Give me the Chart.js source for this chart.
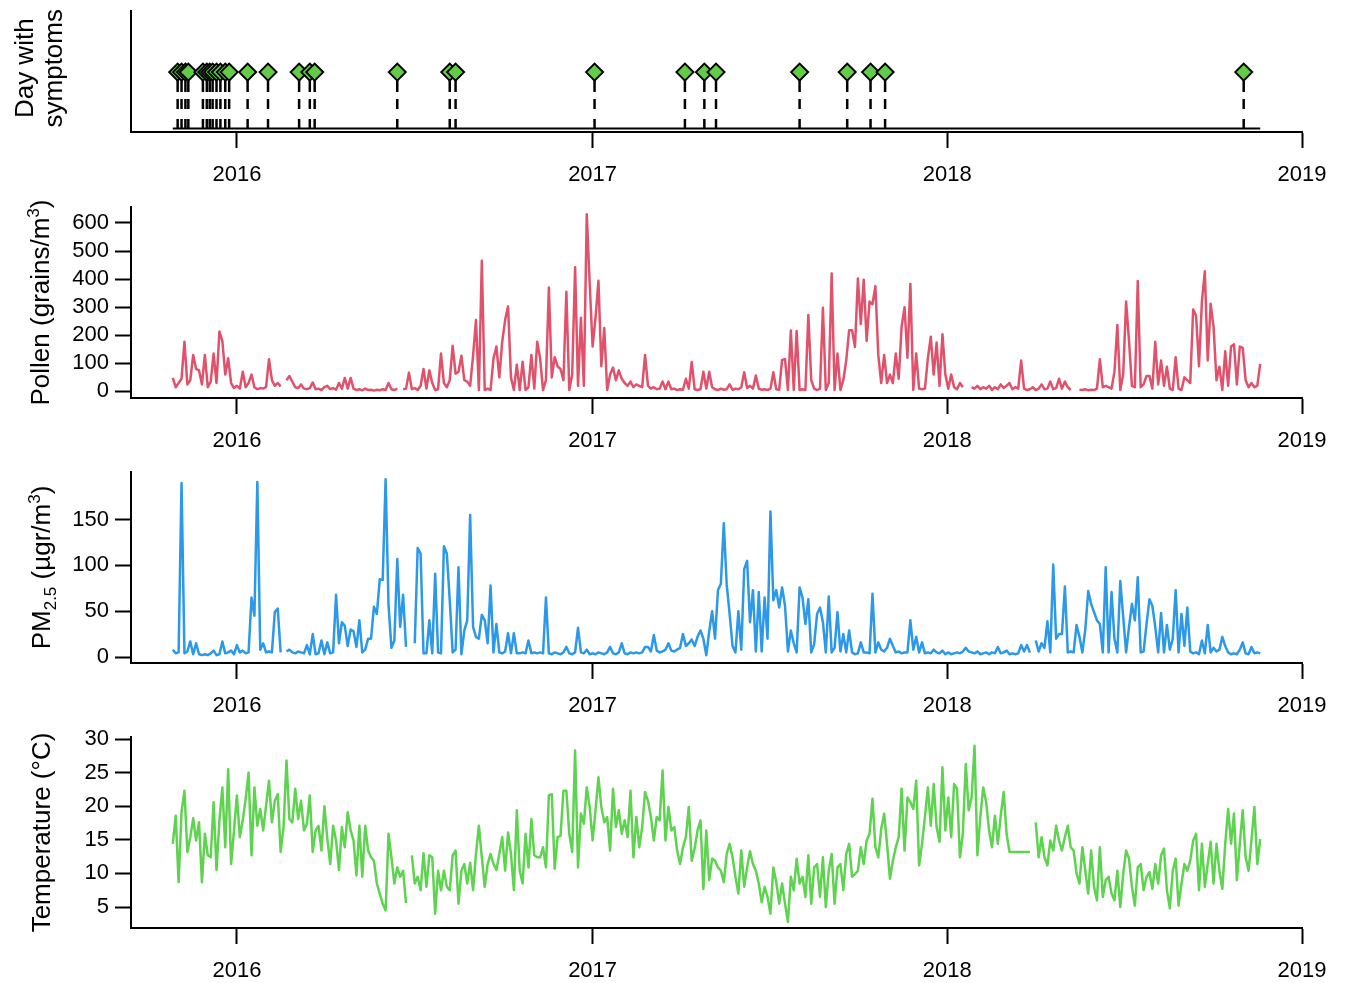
<!DOCTYPE html>
<html>
<head>
<meta charset="utf-8">
<title>Symptoms, pollen, PM2.5 and temperature</title>
<script src="https://cdn.jsdelivr.net/npm/chart.js@4.4.1/dist/chart.umd.min.js"></script>
<style>
  body { margin: 0; background: #fff; }
  .panel { position: absolute; left: 0; }
</style>
</head>
<body>
<div class="panel" style="top:0px"><canvas id="symptoms" width="1345" height="192"></canvas></div>
<div class="panel" style="top:199px"><canvas id="pollen" width="1345" height="259"></canvas></div>
<div class="panel" style="top:464px"><canvas id="pm" width="1345" height="259"></canvas></div>
<div class="panel" style="top:729px"><canvas id="temp" width="1345" height="259"></canvas></div>

<script>
// ---- data (daily series read every 3 days off the figure) ----
const seriesStart = '2015-10-27';
const stepDays = 3;

const yearTicks = ['2016-01-01', '2017-01-01', '2018-01-01', '2019-01-01'];
const yearLabels = ['2016', '2017', '2018', '2019'];

const symptomDates = [
  '2015-11-01', '2015-11-05', '2015-11-09', '2015-11-12',
  '2015-11-27', '2015-12-01', '2015-12-04', '2015-12-07', '2015-12-11', '2015-12-15',
  '2015-12-20', '2015-12-24', '2016-01-12', '2016-02-02', '2016-03-05', '2016-03-16',
  '2016-03-21', '2016-06-14', '2016-08-07', '2016-08-13', '2017-01-03', '2017-04-06',
  '2017-04-26', '2017-05-08', '2017-08-02', '2017-09-20', '2017-10-14', '2017-10-29',
  '2018-11-02'
];

// grains/m3
const pollen = [
  48, 15, 30, 45, 177, 25, 40, 130, 80, 75,
  25, 130, 15, 35, 135, 30, 213, 180, 60, 118,
  30, 12, 20, 10, 70, 15, 30, 60, 15, 8,
  12, 10, 15, 115, 40, 20, 30, 18, null, 40,
  55, 35, 15, 12, 25, 10, 8, 12, 32, 8,
  10, 5, 15, 20, 8, 12, 6, 30, 10, 48,
  10, 48, 10, 5, 8, 4, 10, 5, 6, 3,
  6, 4, 8, 5, 30, 8, 5, 10, null, 8,
  10, 67, 8, 12, 5, 20, 80, 10, 75, 30,
  5, 8, 135, 30, 15, 40, 163, 63, 70, 127,
  40, 35, 20, 127, 254, 5, 465, 5, 10, 5,
  117, 160, 50, 177, 255, 303, 50, 5, 95, 5,
  106, 5, 15, 130, 10, 177, 118, 5, 40, 370,
  50, 122, 89, 80, 40, 355, 5, 60, 442, 20,
  262, 20, 631, 385, 160, 262, 394, 90, 226, 5,
  60, 85, 40, 75, 45, 30, 20, 35, 15, 25,
  20, 15, 130, 20, 10, 15, 8, 10, 35, 8,
  35, 8, 10, 5, 8, 6, 45, 10, 105, 8,
  5, 8, 70, 10, 70, 15, 8, 5, 10, 6,
  8, 25, 6, 10, 8, 15, 68, 12, 20, 10,
  57, 10, 6, 8, 5, 10, 68, 8, 6, 112,
  115, 5, 217, 5, 215, 5, 8, 5, 272, 40,
  10, 5, 10, 298, 5, 30, 420, 5, 135, 5,
  40, 110, 218, 218, 158, 402, 240, 398, 180, 320,
  310, 375, 130, 30, 130, 30, 60, 30, 135, 45,
  231, 300, 120, 383, 5, 135, 10, 8, 10, 118,
  195, 60, 174, 20, 204, 60, 10, 60, 15, 8,
  30, 15, null, null, 15, 10, 20, 8, 15, 10,
  20, 5, 15, 8, 25, 12, 20, 30, 8, 15,
  10, 110, 10, 5, 8, 15, 5, 10, 25, 8,
  10, 35, 8, 12, 45, 10, 35, 15, 5, null,
  null, 6, 5, 8, 4, 6, 5, 10, 115, 15,
  20, 15, 10, 70, 237, 5, 60, 320, 180, 20,
  15, 393, 15, 25, 55, 55, 10, 177, 25, 110,
  20, 88, 10, 5, 122, 10, 5, 50, 40, 30,
  292, 270, 90, 320, 428, 110, 312, 230, 40, 88,
  5, 143, 20, 160, 168, 25, 160, 155, 40, 15,
  30, 15, 20, 98
];

// ugr/m3
const pm25 = [
  8, 4, 5, 190, 4, 6, 17, 3, 15, 3,
  2, 3, 2, 4, 7, 2, 3, 17, 4, 5,
  7, 3, 13, 5, 7, 4, 5, 65, 45, 191,
  8, 15, 5, 6, 5, 49, 53, 5, null, 6,
  8, 5, 4, 6, 5, 4, 13, 3, 25, 3,
  4, 18, 3, 16, 4, 5, 68, 15, 38, 34,
  12, 30, 28, 11, 40, 5, 8, 20, 20, 55,
  47, 85, 84, 194, 57, 10, 18, 107, 33, 68,
  11, null, null, 15, 119, 113, 4, 4, 40, 4,
  91, 5, 4, 121, 113, 62, 5, 8, 98, 3,
  29, 40, 155, 33, 22, 20, 46, 40, 15, 78,
  5, 36, 5, 4, 6, 26, 4, 26, 4, 4,
  5, 4, 18, 4, 5, 4, 5, 4, 65, 4,
  3, 5, 4, 3, 5, 11, 4, 3, 5, 32,
  5, 4, 8, 3, 4, 3, 5, 4, 3, 5,
  11, 4, 3, 5, 15, 4, 3, 5, 4, 5,
  4, 5, 11, 11, 6, 24, 7, 5, 6, 8,
  15, 7, 6, 8, 10, 25, 12, 15, 19, 12,
  22, 29, 20, 2, 28, 50, 20, 73, 80, 146,
  79, 47, 12, 5, 50, 8, 96, 105, 38, 73,
  6, 71, 6, 65, 20, 159, 62, 73, 54, 76,
  56, 6, 29, 15, 5, 76, 65, 36, 63, 5,
  14, 47, 54, 38, 5, 66, 5, 10, 49, 6,
  25, 5, 29, 5, 3, 4, 16, 5, 5, 4,
  69, 5, 16, 8, 6, 10, 20, 12, 5, 6,
  4, 5, 5, 40, 8, 22, 5, 16, 4, 5,
  4, 8, 5, 4, 7, 3, 5, 3, 4, 5,
  4, 6, 10, 6, 5, 4, 6, 3, 4, 5,
  3, 5, 4, 11, 4, 5, 7, 3, 4, 3,
  4, 13, 6, 13, 5, null, 18, 6, 15, 10,
  39, 5, 101, 20, 25, 25, 77, 5, 6, 5,
  35, 22, 5, 30, 72, 58, 49, 40, 36, 5,
  98, 5, 71, 20, 5, 83, 44, 5, 33, 58,
  40, 87, 5, 6, 36, 63, 56, 33, 5, 48,
  5, 35, 8, 20, 73, 5, 47, 12, 54, 6,
  4, 5, 3, 18, 4, 35, 5, 10, 6, 8,
  22, 12, 5, 3, 4, 3, 8, 16, 4, 3,
  11, 4, 5, 4
];

// degrees C
const temperature = [
  14.4, 18.6, 8.7, 19.1, 22.3, 13.2, 15.4, 18.2, 14.9, 17.6,
  8.7, 15.9, 12.7, 12.4, 20.6, 10.5, 17.9, 22.8, 13.9, 25.5,
  11.4, 16.4, 21.6, 15.4, 17.9, 21.1, 25.0, 12.7, 22.8, 17.1,
  19.6, 16.4, 20.1, 23.8, 17.6, 20.8, 21.8, 13.2, 16.9, 26.8,
  18.1, 17.6, 22.6, 18.1, 20.8, 16.4, 17.4, 21.6, 13.2, 16.4,
  17.1, 13.4, 20.0, 15.2, 11.4, 17.1, 14.9, 10.5, 16.9, 13.9,
  19.1, 16.4, 14.9, 9.7, 17.1, 9.5, 17.1, 13.4, 12.4, 11.9,
  8.5, 7.0, 5.5, 4.5, 15.9, 12.4, 8.5, 10.9, 9.5, 10.4,
  5.6, null, 12.7, 8.5, 9.5, 7.5, 13.0, 8.0, 12.7, 12.4,
  4.0, 10.4, 7.5, 10.4, 8.0, 7.5, 12.7, 13.4, 5.5, 10.4,
  11.4, 8.5, 11.6, 7.5, 12.9, 17.1, 12.4, 8.0, 11.4, 12.9,
  11.4, 10.5, 12.9, 15.4, 10.4, 16.1, 12.9, 7.5, 19.4, 10.4,
  8.5, 15.9, 10.9, 18.1, 12.7, 12.4, 12.4, 13.9, 10.9, 21.6,
  21.8, 10.7, 15.4, 15.6, 22.3, 22.3, 15.9, 13.2, 28.3, 10.9,
  18.9, 17.4, 22.8, 19.9, 14.9, 19.4, 24.3, 19.9, 17.6, 18.4,
  13.4, 22.6, 16.9, 19.4, 15.9, 17.9, 15.4, 22.3, 12.4, 18.4,
  13.9, 16.9, 22.1, 20.8, 18.4, 14.9, 18.4, 17.9, 25.3, 14.9,
  19.9, 16.4, 16.9, 13.4, 11.4, 13.9, 15.4, 19.9, 11.9, 13.7,
  16.4, 17.9, 7.7, 16.4, 9.0, 12.2, 11.9, 10.9, 10.4, 8.7,
  12.9, 14.4, 12.4, 9.5, 7.0, 13.4, 8.0, 10.9, 13.3, 11.4,
  10.4, 8.5, 5.7, 8.0, 6.5, 4.0, 10.9, 8.7, 5.5, 8.5,
  5.5, 2.8, 9.5, 7.5, 12.2, 8.5, 9.5, 6.5, 12.7, 5.5,
  10.9, 11.4, 6.5, 12.4, 5.0, 10.4, 12.9, 5.5, 10.9, 11.4,
  7.5, 12.9, 14.4, 9.5, 9.9, 10.4, 13.9, 11.4, 14.9, 15.9,
  21.1, 13.9, 12.4, 16.6, 18.9, 14.4, 9.2, 11.9, 13.9, 15.4,
  22.6, 13.4, 21.3, 20.6, 19.6, 23.8, 11.2, 14.4, 18.4, 22.8,
  17.1, 23.3, 16.9, 14.7, 25.8, 16.4, 21.3, 15.4, 23.3, 22.6,
  12.4, 15.9, 26.3, 19.4, 21.3, 29.0, 12.7, 18.4, 22.8, 20.6,
  16.4, 13.9, 18.6, 14.4, 18.6, 22.1, 15.9, 13.2, 13.2, 13.2,
  13.2, 13.2, 13.2, 13.2, 13.2, null, 17.6, 12.4, 15.4, 12.4,
  11.2, 14.9, 13.4, 17.1, 14.9, 13.4, 15.4, 17.1, 13.9, 13.4,
  10.0, 8.5, 13.9, 10.4, 7.0, 13.4, 8.0, 6.0, 13.9, 6.5,
  9.0, 9.5, 7.0, 6.0, 10.4, 5.0, 9.9, 13.4, 12.2, 8.0,
  5.2, 10.9, 11.4, 7.5, 9.5, 10.2, 7.7, 11.4, 8.5, 12.7,
  13.7, 7.5, 4.8, 10.4, 12.2, 5.2, 8.5, 11.4, 10.4, 11.9,
  14.9, 15.9, 7.5, 14.4, 8.0, 11.4, 14.7, 8.5, 14.4, 10.4,
  7.7, 14.4, 19.6, 14.4, 18.9, 9.0, 14.4, 19.4, 12.4, 10.4,
  14.9, 19.9, 11.4, 15.1
];

const pollenTicks = [0, 100, 200, 300, 400, 500, 600];
const pmTicks = [0, 50, 100, 150];
const tempTicks = [5, 10, 15, 20, 25, 30];

// ---- helpers ----
const FONT = '"Liberation Sans", Arial, Helvetica, sans-serif';

// days counted from 1 Jan 2016
function dayOf(s) {
  return (Date.UTC(+s.slice(0, 4), +s.slice(5, 7) - 1, +s.slice(8, 10)) - Date.UTC(2016, 0, 1)) / 86400000;
}

function toPoints(values) {
  const d0 = dayOf(seriesStart);
  return values.map((v, i) => ({ x: d0 + i * stepDays, y: v }));
}

// y axis titles with super/subscripts, drawn rotated
const axisTitles = {
  id: 'axisTitles',
  afterDraw(chart, args, opts) {
    if (!opts.lines) return;
    const { ctx, chartArea } = chart;
    const cy = (chartArea.top + chartArea.bottom) / 2 + (opts.shift || 0);
    const fontOf = p => (p.sup || p.sub ? '17px ' : '26px ') + FONT;
    ctx.save();
    ctx.fillStyle = '#000';
    ctx.textBaseline = 'alphabetic';
    opts.lines.forEach(line => {
      let w = 0;
      line.parts.forEach(p => { ctx.font = fontOf(p); w += ctx.measureText(p.text).width; });
      ctx.save();
      ctx.translate(line.x, cy);
      ctx.rotate(-Math.PI / 2);
      let x = -w / 2;
      line.parts.forEach(p => {
        ctx.font = fontOf(p);
        ctx.fillText(p.text, x, p.sup ? -10 : (p.sub ? 6 : 0));
        x += ctx.measureText(p.text).width;
      });
      ctx.restore();
    });
    ctx.restore();
  }
};
Chart.register(axisTitles);

function xScale() {
  return {
    type: 'linear',
    min: dayOf('2015-09-14'),
    max: dayOf('2019-01-01'),
    afterBuildTicks: s => { s.ticks = yearTicks.map(d => ({ value: dayOf(d) })); },
    ticks: {
      autoSkip: false, maxRotation: 0, padding: 14, color: '#000',
      font: { family: FONT, size: 22 },
      callback: (v, i) => yearLabels[i]
    },
    grid: { drawOnChartArea: false, tickLength: 16, color: '#000', tickWidth: 2 },
    border: { color: '#000', width: 2 },
    afterFit: s => { s.height = 60; s.paddingLeft = 0; s.paddingRight = 0; }
  };
}

function yScale(min, max, tickVals) {
  const show = tickVals.length > 0;
  return {
    type: 'linear',
    min: min,
    max: max,
    afterBuildTicks: s => { s.ticks = tickVals.map(v => ({ value: v })); },
    ticks: { display: show, padding: 6, color: '#000', font: { family: FONT, size: 22 } },
    grid: { display: show, drawOnChartArea: false, tickLength: 16, color: '#000', tickWidth: 2 },
    border: { color: '#000', width: 2 },
    afterFit: s => { s.width = 131; s.paddingTop = 0; s.paddingBottom = 0; }
  };
}

function options(yMin, yMax, tickVals, titleLines, shift) {
  return {
    responsive: false,
    animation: false,
    layout: { padding: { top: 8, right: 43, bottom: 0, left: 0 } },
    elements: { point: { radius: 0 }, line: { tension: 0, borderWidth: 2.5 } },
    plugins: {
      legend: { display: false },
      tooltip: { enabled: false },
      axisTitles: { lines: titleLines, shift: shift || 0 }
    },
    scales: { x: xScale(), y: yScale(yMin, yMax, tickVals) }
  };
}

function seriesChart(id, values, color, yMin, yMax, tickVals, titleLines) {
  new Chart(document.getElementById(id), {
    type: 'line',
    data: {
      datasets: [{
        data: toPoints(values),
        borderColor: color,
        borderWidth: 2.5,
        spanGaps: false,
        borderJoinStyle: 'round'
      }]
    },
    options: options(yMin, yMax, tickVals, titleLines)
  });
}

// ---- top panel: days with symptoms ----
const d0 = dayOf(seriesStart);
const dEnd = d0 + (pollen.length - 1) * stepDays;
const symptomSets = [
  {
    data: symptomDates.map(s => ({ x: dayOf(s), y: 1 })),
    showLine: false,
    pointStyle: 'rectRot',
    pointRadius: 8.5,
    pointBackgroundColor: '#62cc47',
    pointBorderColor: '#000',
    pointBorderWidth: 2
  },
  {
    data: [{ x: d0, y: 0 }, { x: dEnd, y: 0 }],
    borderColor: '#000',
    borderWidth: 2
  }
].concat(symptomDates.map(s => ({
  data: [{ x: dayOf(s), y: 1 }, { x: dayOf(s), y: 0 }],
  borderColor: '#000',
  borderWidth: 2.5,
  borderDash: [20, 7, 10, 10, 10, 10]
})));

new Chart(document.getElementById('symptoms'), {
  type: 'line',
  data: { datasets: symptomSets },
  options: options(-0.06, 2.09, [], [
    { x: 33, parts: [{ text: 'Day with' }] },
    { x: 62, parts: [{ text: 'symptoms' }] }
  ], -3)
});

seriesChart('pollen', pollen, '#e0526b', -23.4, 656.8, pollenTicks, [
  { x: 49, parts: [{ text: 'Pollen (grains/m' }, { text: '3', sup: true }, { text: ')' }] }
]);

seriesChart('pm', pm25, '#2b98e8', -6.55, 202, pmTicks, [
  { x: 50, parts: [{ text: 'PM' }, { text: '2.5', sub: true }, { text: ' (\u00b5gr/m' }, { text: '3', sup: true }, { text: ')' }] }
]);

seriesChart('temp', temperature, '#5ed34f', 1.88, 30.3, tempTicks, [
  { x: 50, parts: [{ text: 'Temperature (\u00b0C)' }] }
]);
</script>
</body>
</html>
